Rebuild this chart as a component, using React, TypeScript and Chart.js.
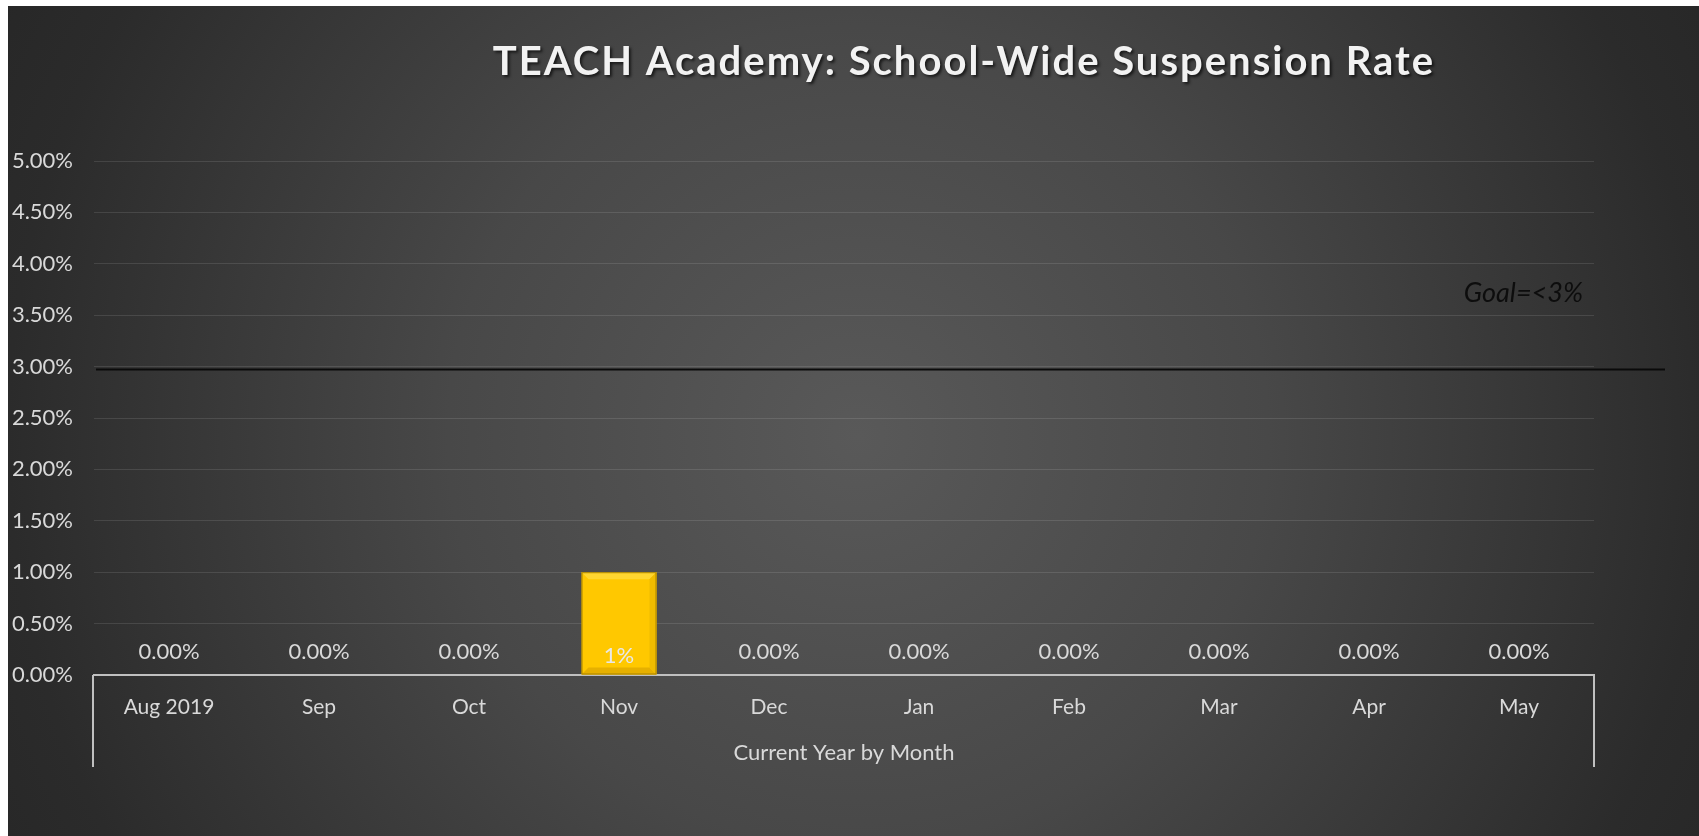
import React, { useEffect, useRef } from "react";
import { Chart, registerables } from "chart.js";

Chart.register(...registerables);

const TITLE = "TEACH Academy: School-Wide Suspension Rate";
const X_AXIS_TITLE = "Current Year by Month";
const GOAL_LABEL = "Goal=<3%";

const categories = ["Aug 2019", "Sep", "Oct", "Nov", "Dec", "Jan", "Feb", "Mar", "Apr", "May"];
const suspensionRate = [0, 0, 0, 1, 0, 0, 0, 0, 0, 0];
const dataLabels = ["0.00%", "0.00%", "0.00%", "1%", "0.00%", "0.00%", "0.00%", "0.00%", "0.00%", "0.00%"];
const goalValue = 3;
const yMin = 0;
const yMax = 5;
const yStep = 0.5;

const FONT = "Lato, 'Open Sans', sans-serif";
const TEXT = "#d9d9d9";

const bgPlugin = {
  id: "bg",
  beforeDraw(chart: any) {
    const { ctx, width, height } = chart;
    ctx.save();
    const g = ctx.createRadialGradient(850, 430, 0, 850, 430, 1000);
    g.addColorStop(0, "#595959");
    g.addColorStop(0.41, "#484848");
    g.addColorStop(0.85, "#2b2b2b");
    g.addColorStop(1, "#262626");
    ctx.fillStyle = g;
    ctx.fillRect(0, 0, width, height);
    ctx.restore();
  },
};

const titlePlugin = {
  id: "customTitle",
  afterDraw(chart: any) {
    const { ctx } = chart;
    ctx.save();
    ctx.font = `bold 40px ${FONT}`;
    (ctx as any).letterSpacing = "2px";
    ctx.textAlign = "center";
    ctx.textBaseline = "middle";
    ctx.shadowColor = "rgba(0,0,0,0.65)";
    ctx.shadowOffsetX = 2;
    ctx.shadowOffsetY = 2;
    ctx.shadowBlur = 3;
    ctx.fillStyle = "#f2f2f2";
    ctx.fillText(TITLE, 956, 56);
    ctx.restore();
  },
};

const decorPlugin = {
  id: "decor",
  afterDatasetsDraw(chart: any) {
    const { ctx, chartArea } = chart;
    const yScale = chart.scales.y;
    const meta = chart.getDatasetMeta(0);
    ctx.save();
    meta.data.forEach((bar: any, i: number) => {
      const { x, y, base, width } = bar.getProps(["x", "y", "base", "width"], true);
      const l = x - width / 2;
      const r = x + width / 2;
      const h = base - y;
      if (h > 0) {
        const b = 7;
        ctx.fillStyle = "#ffd630";
        ctx.beginPath();
        ctx.moveTo(l, y);
        ctx.lineTo(r, y);
        ctx.lineTo(r - b, y + b);
        ctx.lineTo(l + b, y + b);
        ctx.closePath();
        ctx.fill();
        ctx.fillStyle = "#e6b000";
        ctx.beginPath();
        ctx.moveTo(l, base);
        ctx.lineTo(r, base);
        ctx.lineTo(r - b, base - b);
        ctx.lineTo(l + b, base - b);
        ctx.closePath();
        ctx.fill();
        ctx.fillStyle = "#f0bc00";
        ctx.beginPath();
        ctx.moveTo(r, y);
        ctx.lineTo(r, base);
        ctx.lineTo(r - b, base - b);
        ctx.lineTo(r - b, y + b);
        ctx.closePath();
        ctx.fill();
        ctx.strokeStyle = "#a88200";
        ctx.lineWidth = 1;
        ctx.strokeRect(l + 0.5, y + 0.5, width - 1, h - 1);
      }
      ctx.font = `22px ${FONT}`;
      ctx.textAlign = "center";
      ctx.textBaseline = "middle";
      ctx.fillStyle = h > 0 ? "#e8e8e8" : TEXT;
      ctx.fillText(dataLabels[i], x, h > 0 ? base - 19 : base - 23);
    });

    const gy = yScale.getPixelForValue(goalValue) + 3;
    ctx.strokeStyle = "#0a0a0a";
    ctx.lineWidth = 2;
    ctx.beginPath();
    ctx.moveTo(chartArea.left + 2, gy);
    ctx.lineTo(chartArea.right + 71, gy);
    ctx.stroke();

    ctx.font = `italic 27px ${FONT}`;
    ctx.textAlign = "right";
    ctx.textBaseline = "middle";
    ctx.fillStyle = "#0d0d0d";
    ctx.fillText(GOAL_LABEL, chartArea.right - 11, gy - 76);

    ctx.strokeStyle = "#c0c0c0";
    ctx.lineWidth = 2;
    ctx.beginPath();
    ctx.moveTo(chartArea.left - 1, chartArea.bottom);
    ctx.lineTo(chartArea.left - 1, chartArea.bottom + 92);
    ctx.moveTo(chartArea.right, chartArea.bottom);
    ctx.lineTo(chartArea.right, chartArea.bottom + 92);
    ctx.stroke();
    ctx.restore();
  },
};

export default function App() {
  const ref = useRef<HTMLCanvasElement | null>(null);

  useEffect(() => {
    if (!ref.current) return;
    const chart = new Chart(ref.current, {
      type: "bar",
      data: {
        labels: categories,
        datasets: [
          {
            label: "Suspension Rate",
            data: suspensionRate,
            backgroundColor: "#ffc800",
            borderWidth: 0,
            barPercentage: 0.5,
            categoryPercentage: 1.0,
          },
        ],
      },
      options: {
        responsive: false,
        animation: false,
        layout: { padding: { top: 155, right: 105, bottom: 0, left: 0 } },
        plugins: {
          legend: { display: false },
          title: { display: false },
          tooltip: { enabled: false },
        },
        scales: {
          x: {
            grid: { display: false },
            border: { display: true, color: "#c0c0c0", width: 2 },
            ticks: {
              color: TEXT,
              font: { family: FONT, size: 21 },
              padding: 12,
            },
            title: {
              display: true,
              text: X_AXIS_TITLE,
              color: TEXT,
              font: { family: FONT, size: 22 },
              padding: { top: 0, bottom: 70 },
            },
            afterFit(scale: any) {
              scale.height = 161;
            },
          },
          y: {
            min: yMin,
            max: yMax,
            grid: { color: "rgba(255,255,255,0.11)", lineWidth: 1, drawTicks: false },
            border: { display: false },
            ticks: {
              stepSize: yStep,
              color: TEXT,
              font: { family: FONT, size: 22 },
              padding: 21,
              callback: (v: any) => `${Number(v).toFixed(2)}%`,
            },
            afterFit(scale: any) {
              scale.width = 86;
            },
          },
        },
      },
      plugins: [bgPlugin, decorPlugin, titlePlugin],
    });
    return () => chart.destroy();
  }, []);

  return (
    <div style={{ position: "fixed", left: 8, top: 6, width: 1691, height: 830 }}>
      <canvas ref={ref} width={1691} height={830} style={{ display: "block" }} />
    </div>
  );
}
